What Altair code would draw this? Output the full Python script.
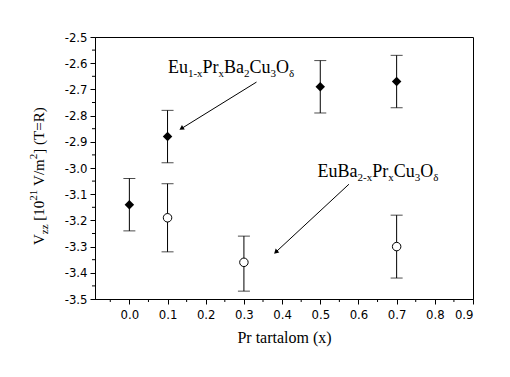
import math
import altair as alt
import pandas as pd

# ---------------- data ----------------
x_filled = [0.0, 0.1, 0.5, 0.7]
y_filled = [-3.14, -2.88, -2.69, -2.67]
lo_filled = [-3.24, -2.98, -2.79, -2.77]
hi_filled = [-3.04, -2.78, -2.59, -2.57]

x_open = [0.1, 0.3, 0.7]
y_open = [-3.19, -3.36, -3.30]
lo_open = [-3.32, -3.47, -3.42]
hi_open = [-3.06, -3.26, -3.18]

x_ticks = [0.0, 0.1, 0.2, 0.3, 0.4, 0.5, 0.6, 0.7, 0.8, 0.9]
x_minor = [-0.05, 0.05, 0.15, 0.25, 0.35, 0.45, 0.55, 0.65, 0.75, 0.85]
y_ticks = [-3.5, -3.4, -3.3, -3.2, -3.1, -3.0, -2.9, -2.8, -2.7, -2.6, -2.5]
y_minor = [-3.45, -3.35, -3.25, -3.15, -3.05, -2.95, -2.85, -2.75, -2.65, -2.55]

label1 = [("Eu", 0), ("1-x", 1), ("Pr", 0), ("x", 1), ("Ba", 0), ("2", 1),
          ("Cu", 0), ("3", 1), ("O", 0), ("δ", 1)]
label1_anchor = (0.101, -2.637)
label2 = [("EuBa", 0), ("2-x", 1), ("Pr", 0), ("x", 1), ("Cu", 0), ("3", 1),
          ("O", 0), ("δ", 1)]
label2_anchor = (0.493, -3.034)

arrows = [  # x1, y1, x2, y2 (tail -> head)
    (0.333, -2.672, 0.138, -2.848),
    (0.575, -3.062, 0.385, -3.319),
]

ytitle = [("V", 0), ("zz", 1), (" [10", 0), ("21", 2), (" V/m", 0), ("2", 2),
          ("] (T=R)", 0)]
xtitle = "Pr tartalom (x)"

# ---------------- layout ----------------
W, H = 378, 262
XD = [-0.09, 0.9]
YD = [-3.5, -2.5]
PX_X = W / (XD[1] - XD[0])
PX_Y = H / (YD[1] - YD[0])
SERIF = "Liberation Serif, Times New Roman, serif"
TICKFONT = "Liberation Sans Narrow, DejaVu Sans Condensed, Liberation Sans, sans-serif"

TW = {"E": .611, "u": .5, "P": .556, "r": .333, "B": .667, "a": .444, "C": .667,
      "O": .722, "1": .5, "-": .333, "x": .5, "2": .5, "3": .5, "δ": .5,
      "V": .722, "z": .444, "[": .333, "0": .5, " ": .25, "/": .278, "m": .778,
      "]": .333, "(": .333, ")": .333, "T": .611, "=": .564, "R": .667}


def tw(s, fs):
    return sum(TW.get(c, .5) for c in s) * fs


xs = alt.Scale(domain=XD, nice=False, zero=False)
ys = alt.Scale(domain=YD, nice=False, zero=False)

xaxis = alt.Axis(values=x_ticks, format=".1f", tickSize=5, labelPadding=4,
                 grid=False, domainColor="black", tickColor="black",
                 labelColor="black", labelFont=TICKFONT, labelFontSize=13,
                 labelOverlap=False,
                 title=xtitle, titleFont=SERIF, titleFontSize=16,
                 titleFontWeight="normal", titleColor="black", titlePadding=8,
                 labelExpr="replace(datum.label, '−', '-')")
yaxis = alt.Axis(values=y_ticks, format=".1f", tickSize=5, labelPadding=3,
                 grid=False, domainColor="black", tickColor="black",
                 labelColor="black", labelFont=TICKFONT, labelFontSize=13,
                 labelOverlap=False,
                 title=None, labelExpr="replace(datum.label, '−', '-')")


def X(f):
    return alt.X(f, type="quantitative", scale=xs, axis=xaxis)


def Y(f):
    return alt.Y(f, type="quantitative", scale=ys, axis=yaxis)


filled = pd.DataFrame({"x": x_filled, "y": y_filled, "lo": lo_filled, "hi": hi_filled})
opn = pd.DataFrame({"x": x_open, "y": y_open, "lo": lo_open, "hi": hi_open})
errs = pd.concat([filled, opn], ignore_index=True)
caps = pd.DataFrame({"x": list(errs["x"]) * 2, "y": list(errs["lo"]) + list(errs["hi"])})

base_err = alt.Chart(errs).mark_rule(color="black", strokeWidth=1).encode(
    x=X("x"), y=Y("lo"), y2="hi:Q")
cap_layer = alt.Chart(caps).mark_tick(orient="horizontal", size=12, thickness=1,
                                      color="black").encode(x=X("x"), y=Y("y"))
filled_pts = alt.Chart(filled).mark_point(shape="diamond", filled=True, size=90,
                                          color="black", opacity=1).encode(
    x=X("x"), y=Y("y"))
open_pts = alt.Chart(opn).mark_point(shape="circle", filled=True, fill="white",
                                     stroke="black", strokeWidth=1, size=72,
                                     opacity=1).encode(x=X("x"), y=Y("y"))

# minor ticks
xm = pd.DataFrame({"x": x_minor})
ym = pd.DataFrame({"y": y_minor})
xminor = alt.Chart(xm).mark_rule(color="black", strokeWidth=1).encode(
    x=X("x"), y=alt.value(H), y2=alt.value(H + 3))
yminor = alt.Chart(ym).mark_rule(color="black", strokeWidth=1).encode(
    y=Y("y"), x=alt.value(-3), x2=alt.value(0))

# annotation labels with subscripts
rows = []
for segs, (ax, ay) in [(label1, label1_anchor), (label2, label2_anchor)]:
    off = 0.0
    for s, kind in segs:
        fs = 18 if kind == 0 else 11
        dy = 0 if kind == 0 else 4
        rows.append({"x": ax + off / PX_X, "y": ay - dy / PX_Y, "t": s, "fs": fs})
        off += tw(s, fs)
lab = pd.DataFrame(rows)
labels = alt.Chart(lab).mark_text(align="left", baseline="alphabetic", font=SERIF,
                                  color="black").encode(
    x=X("x"), y=Y("y"), text="t:N",
    size=alt.Size("fs:Q", scale=None, legend=None))

# arrows
arr = pd.DataFrame([{"x1": a, "y1": b, "x2": c, "y2": d,
                     "ang": (math.degrees(math.atan2((c - a) * PX_X, (d - b) * PX_Y)) + 360) % 360}
                    for a, b, c, d in arrows])
arr_lines = alt.Chart(arr).mark_rule(color="black", strokeWidth=1).encode(
    x=X("x1"), y=Y("y1"), x2="x2:Q", y2="y2:Q")
arr_heads = alt.Chart(arr).mark_point(shape="triangle", filled=True, size=28,
                                      color="black", opacity=1).encode(
    x=X("x2"), y=Y("y2"), angle=alt.Angle("ang:Q", scale=None))

# y title (rotated, with sub/superscripts)
ylayers = []
off = 0.0
for s, kind in ytitle:
    fs = 15 if kind == 0 else 11
    shift = {0: 0, 1: 4, 2: -7}[kind]
    lead = len(s) - len(s.lstrip(" "))
    off += tw(" " * lead, fs)
    s2 = s.lstrip(" ")
    ylayers.append(alt.Chart(pd.DataFrame({"a": [0]})).mark_text(
        align="left", baseline="alphabetic", angle=270, font=SERIF, fontSize=fs,
        color="black").encode(
        x=alt.value(-51 + shift), y=alt.value(208 - off), text=alt.value(s2)))
    off += tw(s2, fs)

chart = alt.layer(base_err, cap_layer, filled_pts, open_pts, xminor, yminor,
                  labels, arr_lines, arr_heads, *ylayers).properties(
    width=W, height=H,
    autosize=alt.AutoSizeParams(type="none"),
    padding={"left": 95, "top": 37, "right": 37, "bottom": 78},
    background="white",
).configure_view(stroke="black", strokeWidth=1)

chart.save("out.html", embed_options={"renderer": "svg", "actions": False})
